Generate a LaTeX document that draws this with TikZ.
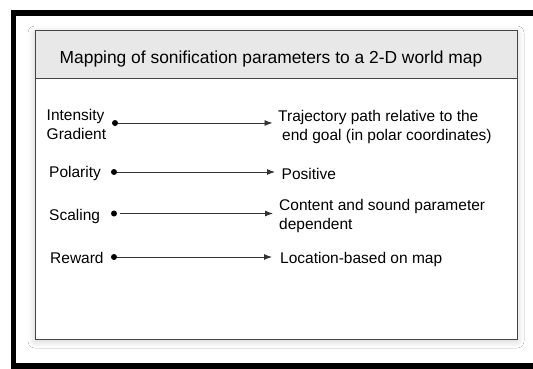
\documentclass[tikz,border=0pt]{standalone}
\usepackage{fontspec}
\setmainfont{Liberation Sans}
\usetikzlibrary{arrows.meta,shadows.blur}
\definecolor{hdr}{HTML}{E8E8E8}
\definecolor{edgec}{HTML}{454545}
\definecolor{arrc}{HTML}{333333}
\begin{document}
\begin{tikzpicture}[x=1pt,y=-1pt,
  lbl/.style={inner sep=0pt,anchor=base west,align=left,font=\fontsize{15.5}{18.8}\selectfont},
  dotnode/.style={circle,fill=black,inner sep=0pt,minimum size=6pt},
  arr/.style={draw=arrc,line width=0.9pt,-{Latex[length=8pt,width=6pt]}},
  frame/.style={fill=black}]
\useasboundingbox (0,0) rectangle (533,369);
\fill[white] (0,0) rectangle (533,369);
% black frame
\fill[frame] (11,10) rectangle (533,16);
\fill[frame] (11,10) rectangle (16,369);
\fill[frame] (11,363) rectangle (533,369);
% panel
\path[fill=white,blur shadow={shadow xshift=0pt,shadow yshift=-2pt,shadow blur radius=7pt,shadow opacity=20}] (35,31) rectangle (517,339);
\fill[hdr] (35,31) rectangle (517,79);
\draw[edgec,line width=1pt] (35,79) -- (517,79);
\draw[edgec,line width=1pt] (35,31) rectangle (517,339);
\node[inner sep=0pt,anchor=base,font=\fontsize{17.4}{20}\selectfont] (title) at (271,64) {Mapping of sonification parameters to a 2-D world map};
% left labels (base = last line)
\node[lbl] (intensity) at (46.5,139.3) {Intensity\\Gradient};
\node[lbl] (polarity) at (49,177.3) {Polarity};
\node[lbl] (scaling) at (49,220.7) {Scaling};
\node[lbl] (reward) at (50,263.3) {Reward};
% right labels
\node[lbl] (trajectory) at (278,140) {Trajectory path relative to the\\\hspace*{4pt}end goal (in polar coordinates)};
\node[lbl] (positive) at (281.5,179) {Positive};
\node[lbl] (content) at (279,229.3) {Content and sound parameter\\dependent};
\node[lbl] (location) at (280,263.3) {Location-based on map};
% dots and arrow ends
\node[dotnode] (d1) at (115,123) {};
\node[dotnode] (d2) at (114,172) {};
\node[dotnode] (d3) at (114,213.5) {};
\node[dotnode] (d4) at (114,257) {};
\coordinate (e1) at (272.5,123);
\coordinate (e2) at (275,172);
\coordinate (e3) at (273,213.5);
\coordinate (e4) at (272,257);
\draw[arr] (d1) -- (e1);
\draw[arr] (d2) -- (e2);
\draw[arr,shorten <=3pt] (d3) -- (e3);
\draw[arr] (d4) -- (e4);
\end{tikzpicture}
\end{document}
